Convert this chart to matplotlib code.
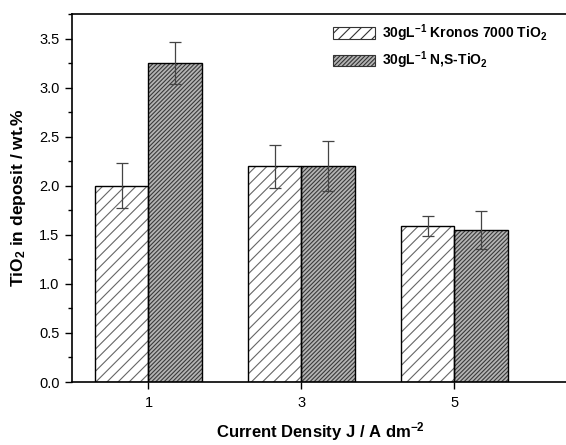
import matplotlib.pyplot as plt
from matplotlib.ticker import MultipleLocator
from matplotlib.patches import Patch
import numpy as np

plt.rcParams['font.family'] = ['Liberation Sans', 'DejaVu Sans']
plt.rcParams['mathtext.fontset'] = 'custom'
plt.rcParams['mathtext.rm'] = 'Liberation Sans:bold'
plt.rcParams['mathtext.bf'] = 'Liberation Sans:bold'
plt.rcParams['mathtext.default'] = 'bf'
plt.rcParams['hatch.linewidth'] = 0.8

# 数据
current_density = [1, 3, 5]
kronos_values = [2.00, 2.20, 1.59]
kronos_err = [0.23, 0.22, 0.10]
ns_values = [3.25, 2.20, 1.55]
ns_err = [0.21, 0.255, 0.19]
series_labels = [r'30gL$^{\rm{-1}}$ Kronos 7000 TiO$_2$', r'30gL$^{\rm{-1}}$ N,S-TiO$_2$']

fig = plt.figure(figsize=(5.66, 4.45), dpi=100)
ax = fig.add_axes([72 / 566, 63 / 445, 497 / 566, 368 / 445])

x = np.array(current_density, dtype=float)
w = 0.7

# 画条 (先画阴影, 再画黑色边框)
ax.bar(x - w / 2, kronos_values, w, color='white', edgecolor='#666666',
       hatch='///', linewidth=0, zorder=2)
ax.bar(x + w / 2, ns_values, w, color='#b4b4b4', edgecolor='#3a3a3a',
       hatch='////////', linewidth=0, zorder=2)
ax.bar(x - w / 2, kronos_values, w, fill=False, edgecolor='black', linewidth=1, zorder=3)
ax.bar(x + w / 2, ns_values, w, fill=False, edgecolor='black', linewidth=1, zorder=3)

# 误差棒
ax.errorbar(x - w / 2, kronos_values, yerr=kronos_err, fmt='none',
            ecolor='#444444', elinewidth=0.9, capsize=4, capthick=0.9, zorder=4)
ax.errorbar(x + w / 2, ns_values, yerr=ns_err, fmt='none',
            ecolor='#444444', elinewidth=0.9, capsize=4, capthick=0.9, zorder=4)

# 图例
handles = [Patch(facecolor='white', edgecolor='#333333', hatch='///', linewidth=0.8),
           Patch(facecolor='#b4b4b4', edgecolor='#333333', hatch='////////', linewidth=0.8)]
ax.legend(handles, series_labels, loc='upper left',
          bbox_to_anchor=(333 / 566, 1 - 22 / 445), bbox_transform=fig.transFigure,
          frameon=False, prop={'size': 10, 'weight': 'bold'}, handlelength=3.0,
          handleheight=0.9, handletextpad=0.5, labelspacing=0.45, borderpad=0,
          borderaxespad=0)

# 坐标轴
ax.set_xlim(0, 6.5)
ax.set_ylim(0, 3.75)
ax.set_xticks(current_density)
ax.set_xticklabels([str(c) for c in current_density])
ax.yaxis.set_major_locator(MultipleLocator(0.5))
ax.yaxis.set_minor_locator(MultipleLocator(0.25))
ax.yaxis.set_major_formatter(plt.FormatStrFormatter('%.1f'))
ax.tick_params(axis='both', which='major', direction='out', length=5, width=1,
               labelsize=10.5, pad=4)
ax.tick_params(axis='x', which='major', pad=5)
ax.tick_params(axis='y', which='minor', direction='out', length=3, width=1)
for s in ax.spines.values():
    s.set_linewidth(1.2)
ax.spines['right'].set_visible(False)  # 右边框在图外

ax.set_xlabel(r'Current Density J / A dm$^{\rm{-2}}$', fontsize=12, fontweight='bold', labelpad=7)
ax.set_ylabel(r'TiO$_2$ in deposit / wt.%', fontsize=12.5, fontweight='bold', labelpad=8)

plt.savefig('out.png', dpi=100)
